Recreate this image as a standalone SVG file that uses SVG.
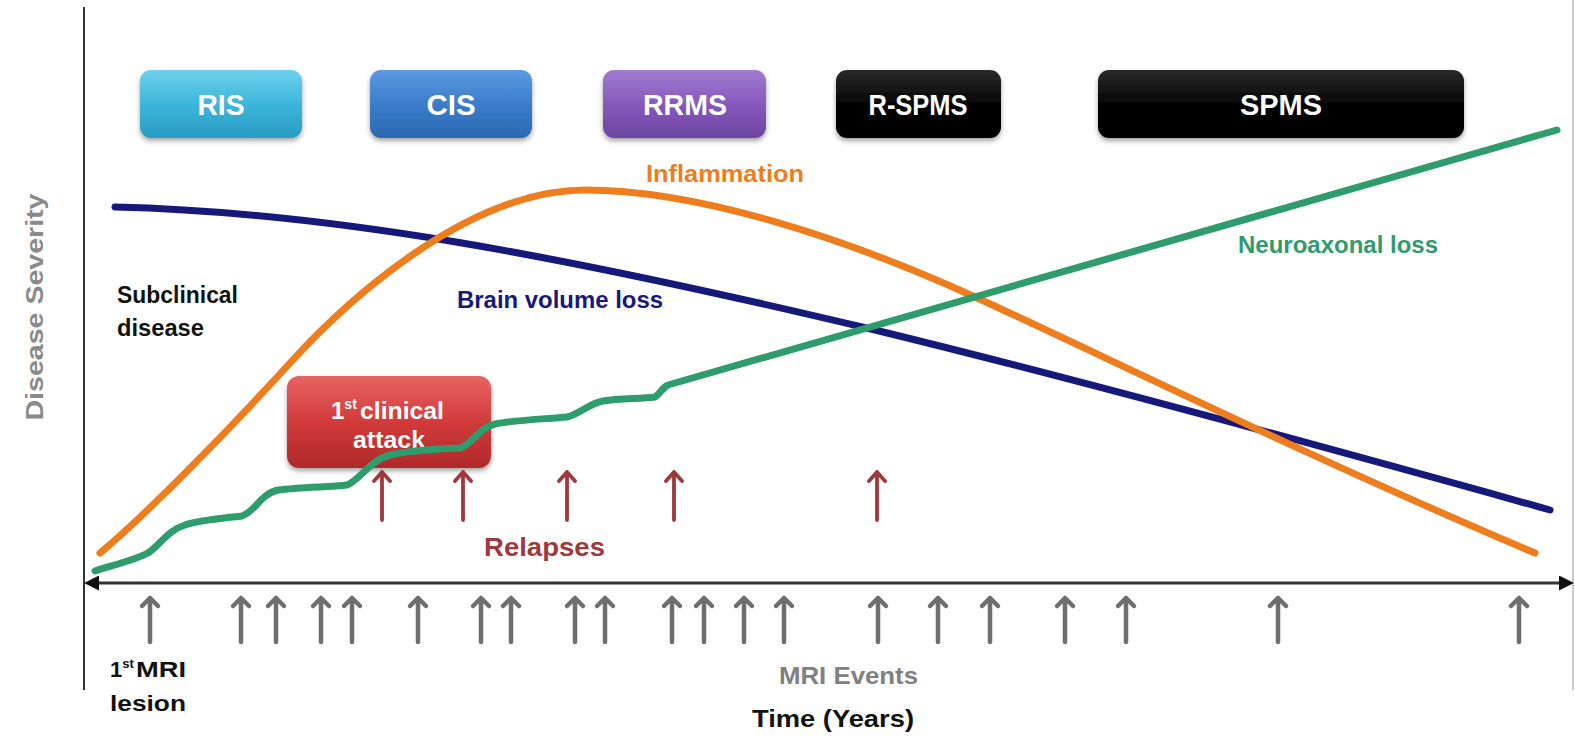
<svg xmlns="http://www.w3.org/2000/svg" xmlns:xlink="http://www.w3.org/1999/xlink" width="1575" height="742" viewBox="0 0 1575 742">
<defs>
<style>
.t{font-family:"Liberation Sans",Arial,sans-serif;font-weight:bold;}
.bx{fill:#fff;font-size:30px;text-anchor:middle;}
.curve{fill:none;stroke-linecap:round;stroke-linejoin:round;}
.mri{fill:none;stroke:#6e6e6e;stroke-width:4.5;stroke-linecap:round;stroke-linejoin:round;}
.rel{fill:none;stroke:#a0393e;stroke-width:3.8;stroke-linecap:round;stroke-linejoin:round;}
</style>
<linearGradient id="gRIS" x1="0" y1="0" x2="0" y2="1"><stop offset="0" stop-color="#6fd0ec"/><stop offset="0.5" stop-color="#3cb6dc"/><stop offset="1" stop-color="#2a9cc2"/></linearGradient>
<linearGradient id="gCIS" x1="0" y1="0" x2="0" y2="1"><stop offset="0" stop-color="#5c9be0"/><stop offset="0.5" stop-color="#3a7dcc"/><stop offset="1" stop-color="#2c68b0"/></linearGradient>
<linearGradient id="gRRMS" x1="0" y1="0" x2="0" y2="1"><stop offset="0" stop-color="#a07ccf"/><stop offset="0.5" stop-color="#8659bd"/><stop offset="1" stop-color="#6d449f"/></linearGradient>
<linearGradient id="gBlk" x1="0" y1="0" x2="0" y2="1"><stop offset="0" stop-color="#2a2a2a"/><stop offset="0.5" stop-color="#050505"/><stop offset="1" stop-color="#000"/></linearGradient>
<linearGradient id="gRed" x1="0" y1="0" x2="0" y2="1"><stop offset="0" stop-color="#e86464"/><stop offset="0.5" stop-color="#d23a3a"/><stop offset="1" stop-color="#b02a2a"/></linearGradient>
<filter id="sh" x="-10%" y="-10%" width="120%" height="140%"><feDropShadow dx="0" dy="3" stdDeviation="2.5" flood-color="#000" flood-opacity="0.35"/></filter>
<marker id="axL" viewBox="0 0 10 10" refX="2" refY="5" markerWidth="5" markerHeight="5" orient="auto-start-reverse"><path d="M0,0 L10,5 L0,10 z" fill="#111"/></marker>
<g id="mriArrow"><path d="M0,0 V-44 M-8,-36 L0,-44 L8,-36"/></g>
<g id="relArrow"><path d="M0,0 V-48 M-8,-39 L0,-48 L8,-39"/></g>
</defs>
<rect x="0" y="0" width="1575" height="742" fill="#fff"/>

<g id="axes">
<line x1="84" y1="7" x2="84" y2="690" stroke="#333" stroke-width="2"/>
<line x1="1573" y1="0" x2="1573" y2="690" stroke="#bbb" stroke-width="1.5"/>
<line x1="96" y1="583" x2="1562" y2="583" stroke="#333" stroke-width="3" marker-start="url(#axL)" marker-end="url(#axL)"/>
</g>

<g id="node-RIS"><rect x="140" y="70" width="162" height="68" rx="11" fill="url(#gRIS)" filter="url(#sh)"/><text class="t bx" x="221" y="115" textLength="47" lengthAdjust="spacingAndGlyphs">RIS</text></g>
<g id="node-CIS"><rect x="370" y="70" width="162" height="68" rx="11" fill="url(#gCIS)" filter="url(#sh)"/><text class="t bx" x="451" y="115" textLength="49" lengthAdjust="spacingAndGlyphs">CIS</text></g>
<g id="node-RRMS"><rect x="603" y="70" width="163" height="68" rx="11" fill="url(#gRRMS)" filter="url(#sh)"/><text class="t bx" x="685" y="115" textLength="84" lengthAdjust="spacingAndGlyphs">RRMS</text></g>
<g id="node-RSPMS"><rect x="836" y="70" width="165" height="68" rx="11" fill="url(#gBlk)" filter="url(#sh)"/><text class="t bx" x="918" y="115" textLength="99" lengthAdjust="spacingAndGlyphs">R-SPMS</text></g>
<g id="node-SPMS"><rect x="1098" y="70" width="366" height="68" rx="11" fill="url(#gBlk)" filter="url(#sh)"/><text class="t bx" x="1281" y="115" textLength="82" lengthAdjust="spacingAndGlyphs">SPMS</text></g>

<g id="curves">
<path class="curve" stroke="#17197a" stroke-width="7" d="M115,207 C330,212 560,255 875,330 C1080,380 1300,440 1550,510"/>
<path class="curve" stroke="#ee7d1e" stroke-width="7" d="M100,553 C140,520 220,440 290,363 C350,297 470,190 585,190 C700,190 850,240 975,297 C1100,354 1310,458 1535,553"/>
</g>

<g id="node-attack"><rect x="287" y="376" width="204" height="92" rx="12" fill="url(#gRed)" filter="url(#sh)"/>
<text class="t" fill="#fff" font-size="24" x="331" y="419">1<tspan font-size="14" dy="-10">st</tspan><tspan x="360" dy="10" textLength="84" lengthAdjust="spacingAndGlyphs">clinical</tspan></text>
<text class="t" fill="#fff" font-size="24" x="389" y="448" text-anchor="middle" textLength="72" lengthAdjust="spacingAndGlyphs">attack</text></g>

<g id="green">
<path class="curve" stroke="#2e9c6c" stroke-width="7" d="M95,571 C110,566 135,560 148,553 C160,545 168,530 185,525 C200,520 225,518 242,516 C255,512 260,494 278,490 C300,487 330,487 347,485 C360,480 370,460 390,455 C410,450 440,449 460,448 C472,445 478,428 495,424 C515,420 545,419 567,417 C580,414 588,404 603,401 C620,398 640,399 655,397 C660,394 662,388 668,385 L1557,130"/>
</g>

<g id="relapse-arrows" class="rel">
<use xlink:href="#relArrow" x="382" y="520"/>
<use xlink:href="#relArrow" x="463" y="520"/>
<use xlink:href="#relArrow" x="567" y="520"/>
<use xlink:href="#relArrow" x="674" y="520"/>
<use xlink:href="#relArrow" x="877" y="520"/>
</g>

<g id="mri-arrows" class="mri">
<use xlink:href="#mriArrow" x="150" y="642"/>
<use xlink:href="#mriArrow" x="241" y="642"/>
<use xlink:href="#mriArrow" x="276" y="642"/>
<use xlink:href="#mriArrow" x="321" y="642"/>
<use xlink:href="#mriArrow" x="352" y="642"/>
<use xlink:href="#mriArrow" x="418" y="642"/>
<use xlink:href="#mriArrow" x="481" y="642"/>
<use xlink:href="#mriArrow" x="511" y="642"/>
<use xlink:href="#mriArrow" x="575" y="642"/>
<use xlink:href="#mriArrow" x="605" y="642"/>
<use xlink:href="#mriArrow" x="672" y="642"/>
<use xlink:href="#mriArrow" x="704" y="642"/>
<use xlink:href="#mriArrow" x="744" y="642"/>
<use xlink:href="#mriArrow" x="784" y="642"/>
<use xlink:href="#mriArrow" x="878" y="642"/>
<use xlink:href="#mriArrow" x="938" y="642"/>
<use xlink:href="#mriArrow" x="990" y="642"/>
<use xlink:href="#mriArrow" x="1065" y="642"/>
<use xlink:href="#mriArrow" x="1126" y="642"/>
<use xlink:href="#mriArrow" x="1278" y="642"/>
<use xlink:href="#mriArrow" x="1519" y="642"/>
</g>

<g id="labels">
<text class="t" fill="#ee7d1e" font-size="23" x="646" y="182" textLength="158" lengthAdjust="spacingAndGlyphs">Inflammation</text>
<text class="t" fill="#2e9c6c" font-size="23" x="1238" y="253" textLength="200" lengthAdjust="spacingAndGlyphs">Neuroaxonal  loss</text>
<text class="t" fill="#17197a" font-size="23" x="457" y="308" textLength="206" lengthAdjust="spacingAndGlyphs">Brain volume loss</text>
<text class="t" fill="#111" font-size="23" x="117" y="303" textLength="121" lengthAdjust="spacingAndGlyphs">Subclinical</text>
<text class="t" fill="#111" font-size="23" x="117" y="336" textLength="87" lengthAdjust="spacingAndGlyphs">disease</text>
<text class="t" fill="#a0393e" font-size="25" x="484" y="556" textLength="121" lengthAdjust="spacingAndGlyphs">Relapses</text>
<text class="t" fill="#111" font-size="22" x="110" y="677">1<tspan font-size="13" dy="-9">st</tspan><tspan x="136" dy="9" textLength="50" lengthAdjust="spacingAndGlyphs">MRI</tspan></text>
<text class="t" fill="#111" font-size="22" x="110" y="711" textLength="76" lengthAdjust="spacingAndGlyphs">lesion</text>
<text class="t" fill="#808080" font-size="24" x="779" y="684" textLength="139" lengthAdjust="spacingAndGlyphs">MRI Events</text>
<text class="t" fill="#111" font-size="23" x="752" y="727" textLength="162" lengthAdjust="spacingAndGlyphs">Time (Years)</text>
<text class="t" fill="#8a8a8a" font-size="24" transform="translate(43,307) rotate(-90)" text-anchor="middle" textLength="227" lengthAdjust="spacingAndGlyphs">Disease Severity</text>
</g>
</svg>
